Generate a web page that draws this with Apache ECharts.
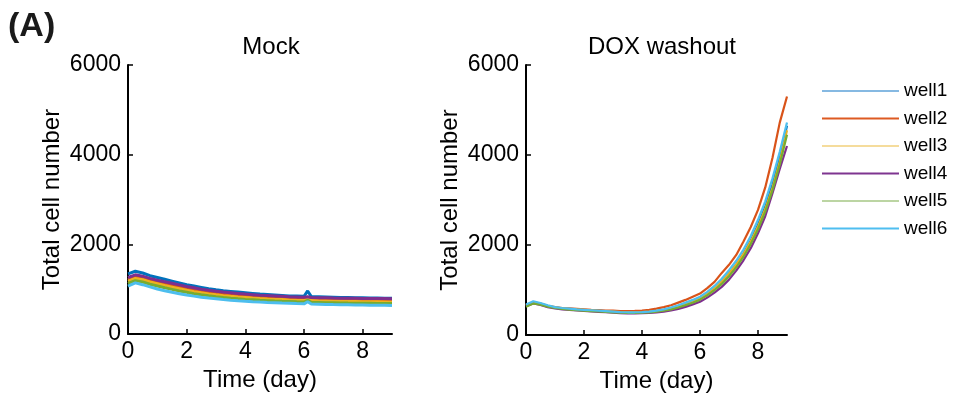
<!DOCTYPE html>
<html>
<head>
<meta charset="utf-8">
<script src="https://cdn.jsdelivr.net/npm/echarts@6/dist/echarts.min.js"></script>
<style>
  html, body { margin: 0; padding: 0; background: #fff; }
  #chart { width: 954px; height: 401px; }
</style>
</head>
<body>
<div id="chart"></div>
<script>
// ---- data ----
var wellNames = ['well1', 'well2', 'well3', 'well4', 'well5', 'well6'];
var wellColors = ['#0072BD', '#D95319', '#EDB120', '#7E2F8E', '#77AC30', '#4DBEEE'];
var legendColors = ['#86b9e2', '#dd5a22', '#f5dc9c', '#7e3590', '#bcd5a3', '#4fbef0'];
var xTicks = [0, 2, 4, 6, 8];

// Mock: time points (0.25 day steps, extra point at 6.125 for the spike)
var mockDays = [0, 0.25, 0.5, 0.75, 1, 1.25, 1.5, 1.75, 2, 2.25, 2.5, 2.75, 3, 3.25, 3.5, 3.75,
  4, 4.25, 4.5, 4.75, 5, 5.25, 5.5, 5.75, 6, 6.125, 6.25, 6.5, 6.75, 7, 7.25, 7.5, 7.75,
  8, 8.25, 8.5, 8.75, 9];
var mockWell1 = [1340, 1400, 1360, 1300, 1260, 1220, 1180, 1140, 1100, 1070, 1040, 1010, 985, 965, 950, 935,
  920, 905, 890, 880, 870, 860, 850, 845, 840, 960, 835, 830, 825, 820, 815, 815, 810,
  810, 805, 805, 800, 800];
var mockWell2 = [1220, 1280, 1250, 1200, 1160, 1120, 1085, 1050, 1015, 985, 955, 930, 910, 890, 875, 860,
  848, 836, 825, 815, 806, 798, 790, 784, 778, 800, 773, 768, 764, 760, 757, 754, 752,
  750, 748, 746, 744, 742];
var mockWell3 = [1180, 1240, 1210, 1160, 1120, 1080, 1045, 1010, 975, 945, 918, 895, 875, 856, 840, 826,
  814, 802, 792, 783, 775, 768, 761, 755, 750, 770, 745, 740, 736, 732, 729, 726, 724,
  722, 720, 718, 716, 714];
var mockWell4 = [1260, 1320, 1290, 1240, 1200, 1165, 1130, 1095, 1060, 1030, 1000, 975, 955, 935, 920, 905,
  890, 878, 866, 856, 848, 840, 832, 826, 820, 830, 815, 810, 806, 802, 800, 798, 796,
  794, 792, 790, 790, 788];
var mockWell5 = [1130, 1190, 1160, 1110, 1070, 1030, 995, 960, 930, 900, 875, 852, 832, 814, 798, 784,
  772, 762, 752, 744, 736, 729, 723, 717, 712, 750, 707, 703, 699, 696, 693, 690, 688,
  686, 684, 682, 680, 678];
var mockWell6 = [1070, 1140, 1100, 1050, 1005, 965, 930, 900, 870, 845, 822, 802, 785, 768, 754, 742,
  731, 721, 712, 704, 697, 690, 684, 678, 673, 720, 668, 664, 660, 656, 653, 650, 647,
  645, 643, 641, 639, 637];

// DOX washout: time points (0.25 day steps)
var doxDays = [0, 0.25, 0.5, 0.75, 1, 1.25, 1.5, 1.75, 2, 2.25, 2.5, 2.75, 3, 3.25, 3.5, 3.75,
  4, 4.25, 4.5, 4.75, 5, 5.25, 5.5, 5.75, 6, 6.25, 6.5, 6.75, 7, 7.25, 7.5, 7.75,
  8, 8.25, 8.5, 8.75, 9];
var doxWell1 = [650, 720, 690, 640, 610, 590, 575, 565, 555, 545, 535, 525, 515, 505, 500, 500,
  505, 515, 530, 555, 590, 635, 690, 750, 820, 920, 1040, 1190, 1370, 1570, 1810, 2100,
  2450, 2850, 3350, 3950, 4650];
var doxWell2 = [660, 730, 700, 650, 620, 600, 590, 580, 570, 560, 555, 545, 540, 530, 530, 535,
  545, 560, 585, 620, 660, 720, 780, 850, 920, 1040, 1180, 1380, 1560, 1780, 2080, 2400,
  2780, 3280, 3940, 4720, 5300];
var doxWell3 = [660, 725, 695, 645, 615, 595, 580, 568, 558, 548, 538, 528, 518, 508, 502, 502,
  508, 518, 535, 560, 595, 640, 695, 755, 825, 925, 1045, 1195, 1370, 1570, 1800, 2080,
  2410, 2800, 3270, 3850, 4550];
var doxWell4 = [640, 700, 670, 620, 590, 570, 555, 545, 535, 525, 515, 505, 495, 485, 480, 480,
  485, 490, 500, 520, 545, 580, 625, 680, 740, 830, 940, 1070, 1230, 1430, 1660, 1930,
  2260, 2640, 3150, 3690, 4200];
var doxWell5 = [630, 700, 675, 630, 600, 580, 565, 552, 542, 532, 522, 512, 502, 494, 490, 490,
  495, 503, 518, 540, 570, 610, 660, 718, 785, 880, 995, 1135, 1305, 1505, 1740, 2020,
  2350, 2740, 3220, 3790, 4450];
var doxWell6 = [680, 750, 710, 660, 620, 600, 585, 570, 560, 550, 540, 530, 520, 510, 505, 505,
  510, 520, 540, 570, 610, 660, 720, 780, 850, 960, 1090, 1250, 1440, 1650, 1900, 2200,
  2560, 2970, 3480, 4070, 4720];

var mockSeries = [mockWell1, mockWell2, mockWell3, mockWell4, mockWell5, mockWell6];
var doxSeries = [doxWell1, doxWell2, doxWell3, doxWell4, doxWell5, doxWell6];

var FONT = 'Liberation Sans, Arial, sans-serif';

function pairs(days, vals) {
  var out = [];
  for (var i = 0; i < days.length; i++) out.push([days[i], vals[i]]);
  return out;
}

function makeX(idx) {
  return {
    type: 'value', gridIndex: idx, min: 0, max: 9, interval: 2,
    name: 'Time (day)', nameLocation: 'middle', nameGap: 34,
    nameTextStyle: { color: '#000', fontSize: 24, fontFamily: FONT },
    axisLine: { show: true, onZero: false, lineStyle: { color: '#000', width: 2 } },
    axisTick: { show: true, inside: true, length: 5, lineStyle: { color: '#000', width: 1.5 }, customValues: xTicks },
    axisLabel: { color: '#000', fontSize: 23, fontFamily: FONT, margin: 6, customValues: xTicks },
    splitLine: { show: false }
  };
}

function makeY(idx) {
  return {
    type: 'value', gridIndex: idx, min: 0, max: 6000, interval: 2000,
    name: 'Total cell number', nameLocation: 'middle', nameGap: 64,
    nameTextStyle: { color: '#000', fontSize: 24, fontFamily: FONT },
    axisLine: { show: true, lineStyle: { color: '#000', width: 2 } },
    axisTick: { show: true, inside: true, length: 5, lineStyle: { color: '#000', width: 1.5 } },
    axisLabel: { color: '#000', fontSize: 23, fontFamily: FONT, margin: 7,
      formatter: function (v) { return String(v); } },
    splitLine: { show: false }
  };
}

var series = [];
for (var i = 0; i < wellNames.length; i++) {
  series.push({
    name: wellNames[i], type: 'line', xAxisIndex: 0, yAxisIndex: 0,
    data: pairs(mockDays, mockSeries[i]), symbol: 'none',
    lineStyle: { color: wellColors[i], width: 3 }, itemStyle: { color: wellColors[i] }
  });
}
for (var j = 0; j < wellNames.length; j++) {
  series.push({
    name: wellNames[j], type: 'line', xAxisIndex: 1, yAxisIndex: 1,
    data: pairs(doxDays, doxSeries[j]), symbol: 'none',
    lineStyle: { color: wellColors[j], width: 2.2 }, itemStyle: { color: wellColors[j] }
  });
}

var legendData = [];
for (var k = 0; k < wellNames.length; k++) {
  legendData.push({
    name: wellNames[k],
    icon: 'rect',
    itemStyle: { color: legendColors[k] }
  });
}

var chart = echarts.init(document.getElementById('chart'));
var option = {
  animation: false,
  backgroundColor: '#fff',
  title: [
    { text: '(A)', left: 3, top: 5, textStyle: { fontSize: 34, fontWeight: 'bold', color: '#1a1a1a', fontFamily: FONT } },
    { text: 'Mock', left: 266, top: 30, textAlign: 'center', textStyle: { fontSize: 24, fontWeight: 'normal', color: '#000', fontFamily: FONT } },
    { text: 'DOX washout', left: 657, top: 30, textAlign: 'center', textStyle: { fontSize: 24, fontWeight: 'normal', color: '#000', fontFamily: FONT } }
  ],
  legend: {
    orient: 'vertical', left: 822, top: 81, padding: 0,
    itemWidth: 77, itemHeight: 2, itemGap: 7.5,
    selectedMode: false,
    textStyle: { color: '#000', fontSize: 19, fontFamily: FONT, lineHeight: 20 },
    data: legendData
  },
  grid: [
    { left: 128, top: 65, width: 264, height: 269 },
    { left: 526, top: 65, width: 261, height: 270 }
  ],
  xAxis: [makeX(0), makeX(1)],
  yAxis: [makeY(0), makeY(1)],
  series: series
};
chart.setOption(option);
</script>
</body>
</html>
